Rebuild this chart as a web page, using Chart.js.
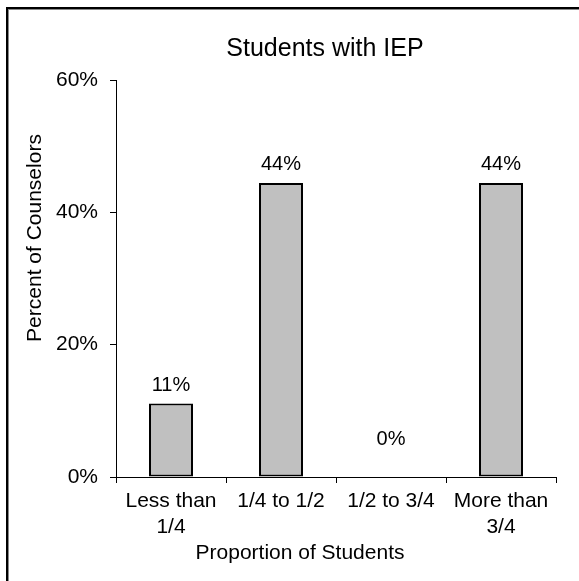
<!DOCTYPE html>
<html>
<head>
<meta charset="utf-8">
<script src="https://cdn.jsdelivr.net/npm/chart.js@4.4.1/dist/chart.umd.min.js"></script>
<style>
  html, body { margin: 0; padding: 0; background: #fff; }
  #wrap { position: relative; width: 579px; height: 581px; overflow: hidden; }
  #frame { position: absolute; left: 6px; top: 7px; width: 700px; height: 700px;
           border-left: 2px solid #000; border-top: 2px solid #000; box-sizing: border-box;
           box-shadow: inset 1px 1px 0 #888; }
  canvas { position: absolute; left: 0; top: 0; }
</style>
</head>
<body>
<div id="wrap">
  <canvas id="chart" width="579" height="581"></canvas>
  <div id="frame"></div>
</div>
<script>
// data
var categories = [["Less than", "1/4"], "1/4 to 1/2", "1/2 to 3/4", ["More than", "3/4"]];
var values = [11.11, 44.44, 0, 44.44];
var valueLabels = ["11%", "44%", "0%", "44%"];
var yTicks = [0, 20, 40, 60];

var chartTitle = "Students with IEP";
var xTitle = "Proportion of Students";
var yTitle = "Percent of Counselors";

var FONT = "'Liberation Sans', Arial, sans-serif";

// titles sit where excel put them (not centred on the plot), plus value labels over bars
var labelsPlugin = {
    id: 'labels',
    afterDraw: function(chart) {
        var ctx = chart.ctx;
        ctx.save();
        ctx.fillStyle = '#000';
        ctx.textAlign = 'center';
        ctx.textBaseline = 'middle';
        ctx.font = '25px ' + FONT;
        ctx.fillText(chartTitle, 325, 49);

        ctx.font = '21px ' + FONT;
        ctx.fillText(xTitle, 300, 553);

        ctx.save();
        ctx.translate(35, 238);
        ctx.rotate(-Math.PI / 2);
        ctx.fillText(yTitle, 0, 0);
        ctx.restore();

        ctx.font = '20px ' + FONT;
        var meta = chart.getDatasetMeta(0);
        meta.data.forEach(function(bar, i) {
            var y = bar.y - 18;
            if (values[i] === 0) y = bar.y - 38;  // excel lifts the zero label
            ctx.fillText(valueLabels[i], bar.x, y);
        });
        ctx.restore();
    }
};

var ctx = document.getElementById("chart").getContext('2d');
var chart = new Chart(ctx, {
    type: 'bar',
    data: {
        labels: categories,
        datasets: [{
            data: values,
            backgroundColor: '#c0c0c0',
            borderColor: '#000',
            borderWidth: function(c) { return c.raw === 0 ? 0 : 2; },
            borderSkipped: false,
            categoryPercentage: 1,
            barPercentage: 0.4
        }]
    },
    options: {
        responsive: false,
        animation: false,
        events: [],
        layout: { padding: { left: 0, right: 23, top: 80, bottom: 0 } },
        plugins: {
            legend: { display: false },
            tooltip: { enabled: false },
            title: { display: false }
        },
        scales: {
            x: {
                afterFit: function(scale) { scale.height = 104; },
                grid: { offset: true, drawOnChartArea: false, drawTicks: true, tickLength: 6, color: '#000' },
                border: { display: true, color: '#000', width: 1 },
                ticks: { color: '#000', font: { family: FONT, size: 21 }, padding: 6, maxRotation: 0, autoSkip: false }
            },
            y: {
                min: 0,
                max: 60,
                afterFit: function(scale) { scale.width = 116; },
                afterBuildTicks: function(scale) { scale.ticks = yTicks.map(function(v) { return { value: v }; }); },
                grid: { drawOnChartArea: false, drawTicks: true, tickLength: 6, color: '#000' },
                border: { display: true, color: '#000', width: 1 },
                ticks: { color: '#000', font: { family: FONT, size: 21 }, padding: 12,
                         callback: function(v) { return v + '%'; } }
            }
        }
    },
    plugins: [labelsPlugin]
});
</script>
</body>
</html>
